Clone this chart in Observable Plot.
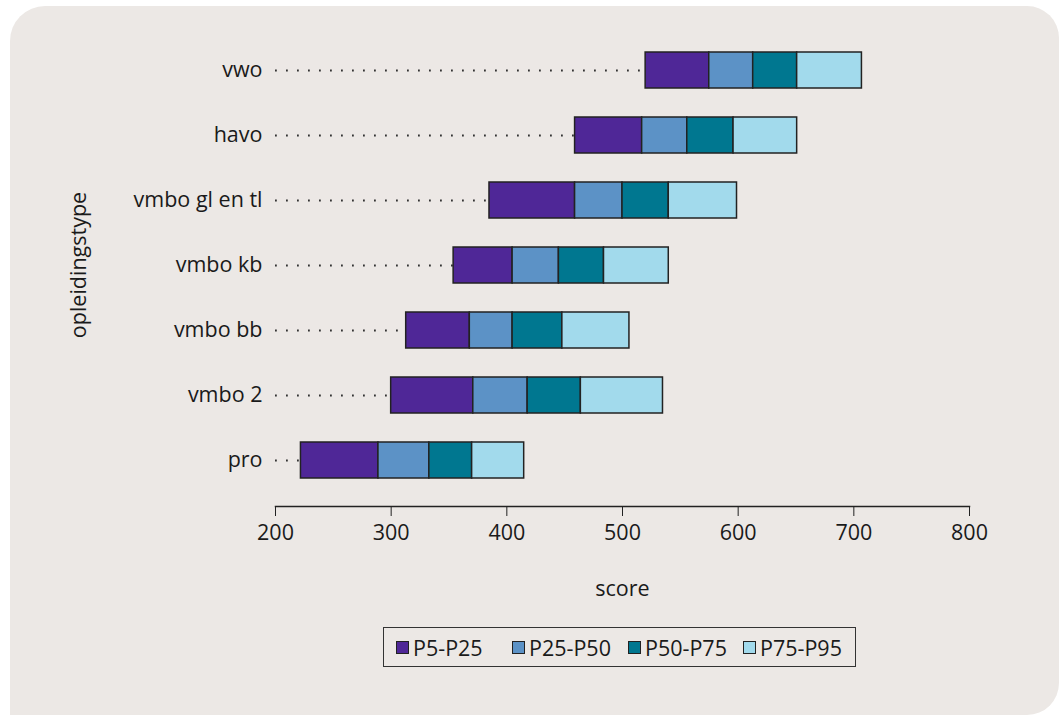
<!DOCTYPE html>
<html>
<head>
<meta charset="utf-8">
<script src="https://cdn.jsdelivr.net/npm/d3@7"></script>
<script src="https://cdn.jsdelivr.net/npm/@observablehq/plot@0.6"></script>
<style>
  body { margin: 0; background: #ffffff; width: 1059px; height: 715px; overflow: hidden; position: relative; font-family: "Open Sans", sans-serif; color: #1a1a1a; }
  #panel { position: absolute; left: 10px; top: 6px; width: 1049px; height: 709px; background: #ece8e5; border-radius: 35px 32px 32px 0; }
  #chart { position: absolute; left: 0; top: 0; }
  #legend { position: absolute; left: 383px; top: 627px; width: 471px; height: 38px; border: 1.5px solid #333; box-sizing: content-box; }
  .item { position: absolute; top: 0; height: 38px; display: flex; align-items: center; font-size: 21.5px; }
  .sw { width: 11px; height: 11px; border: 1.5px solid #222; margin-right: 4px; }
</style>
</head>
<body>
<div id="panel"></div>
<div id="chart"></div>
<div id="legend"></div>
<script>
const categories = ["vwo", "havo", "vmbo gl en tl", "vmbo kb", "vmbo bb", "vmbo 2", "pro"];
const p5  = [520, 459, 385, 354, 313, 300, 222];
const p25 = [575, 517, 459, 405, 368, 371, 289];
const p50 = [613, 556, 500, 445, 405, 418, 333];
const p75 = [651, 596, 540, 484, 448, 464, 370];
const p95 = [707, 651, 599, 540, 506, 535, 415];
const seriesNames = ["P5-P25", "P25-P50", "P50-P75", "P75-P95"];
const seriesColors = ["#4f2797", "#5c92c6", "#007790", "#a2daec"];
const xTicks = [200, 300, 400, 500, 600, 700, 800];
const xLabel = "score";
const yLabel = "opleidingstype";

const bounds = [p5, p25, p50, p75, p95];
const segments = [];
categories.forEach((c, i) => {
  seriesNames.forEach((s, k) => {
    segments.push({cat: c, series: s, x1: bounds[k][i], x2: bounds[k + 1][i]});
  });
});
const leaders = categories.map((c, i) => ({cat: c, start: xTicks[0], end: p5[i]}));

const chart = Plot.plot({
  width: 1059,
  height: 600,
  marginLeft: 275,
  marginRight: 90,
  marginTop: 23,
  marginBottom: 94,
  style: {background: "transparent", fontFamily: "Open Sans", fontSize: "21.5px", color: "#1a1a1a", overflow: "visible"},
  x: {domain: [200, 800]},
  y: {domain: categories, padding: 0.45, paddingOuter: 0.412},
  color: {domain: seriesNames, range: seriesColors},
  marks: [
    Plot.ruleY(leaders, {y: "cat", x1: "start", x2: "end", stroke: "#333", strokeWidth: 1.8, strokeDasharray: "1.8,9.2"}),
    Plot.barX(segments, {y: "cat", x1: "x1", x2: "x2", fill: "series", stroke: "#222", strokeWidth: 1.5}),
    Plot.frame({anchor: "bottom", stroke: "#222", strokeWidth: 1.5}),
    Plot.axisX({ticks: xTicks, tickSize: 10, tickPadding: 8, label: null, stroke: "#222"}),
    Plot.axisY({tickSize: 0, tickPadding: 13, label: null}),
    Plot.text([xLabel], {frameAnchor: "bottom", dy: 83, lineAnchor: "middle", fontSize: 21.5}),
    Plot.text([yLabel], {frameAnchor: "left", dx: -196, rotate: -90, textAnchor: "middle", lineAnchor: "middle", fontSize: 21.5})
  ]
});
document.getElementById("chart").appendChild(chart);

const legend = document.getElementById("legend");
const offsets = [12, 128, 244, 359];
seriesNames.forEach((s, k) => {
  const it = document.createElement("div");
  it.className = "item";
  it.style.left = offsets[k] + "px";
  const sw = document.createElement("div");
  sw.className = "sw";
  sw.style.background = seriesColors[k];
  const t = document.createElement("span");
  t.textContent = s;
  it.appendChild(sw);
  it.appendChild(t);
  legend.appendChild(it);
});
</script>
</body>
</html>
